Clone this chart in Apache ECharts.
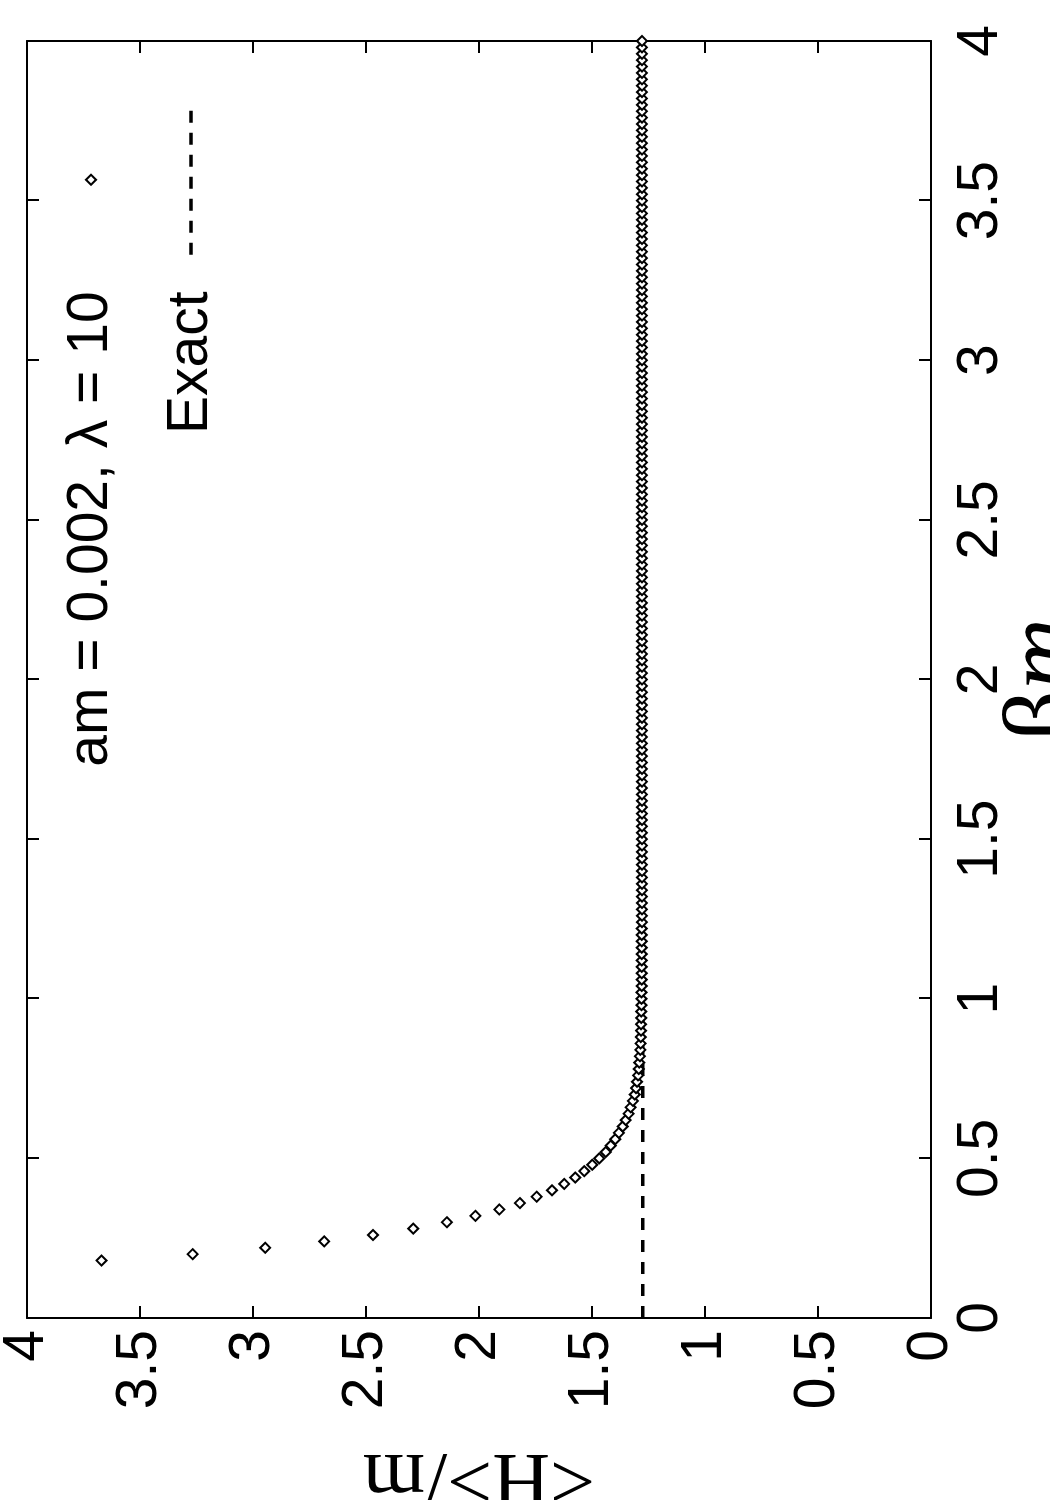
<!DOCTYPE html>
<html>
<head>
<meta charset="utf-8">
<style>
  html, body { margin: 0; padding: 0; background: #fff; overflow: hidden; }
  body { width: 1050px; height: 1500px; position: relative; }
  /* the plot is drawn landscape and turned a quarter turn to the left */
  #chart {
    position: absolute; left: 0; top: 0;
    width: 1500px; height: 1050px;
    transform-origin: 0 0;
    transform: translate(0, 1500px) rotate(-90deg);
  }
</style>
<script src="https://cdn.jsdelivr.net/npm/echarts@6/dist/echarts.min.js"></script>
</head>
<body>
<div id="chart"></div>
<script>
// beta*m sample points
const betaM = [
  0.18, 0.20, 0.22, 0.24, 0.26, 0.28, 0.30, 0.32, 0.34, 0.36,
  0.38, 0.40, 0.42, 0.44, 0.46, 0.48, 0.50, 0.52, 0.54, 0.56,
  0.58, 0.60, 0.62, 0.64, 0.66, 0.68, 0.70, 0.72, 0.74, 0.76,
  0.78, 0.80, 0.82, 0.84, 0.86, 0.88, 0.90, 0.92, 0.94, 0.96,
  0.98, 1.00, 1.02, 1.04, 1.06, 1.08, 1.10, 1.12, 1.14, 1.16,
  1.18, 1.20, 1.22, 1.24, 1.26, 1.28, 1.30, 1.32, 1.34, 1.36,
  1.38, 1.40, 1.42, 1.44, 1.46, 1.48, 1.50, 1.52, 1.54, 1.56,
  1.58, 1.60, 1.62, 1.64, 1.66, 1.68, 1.70, 1.72, 1.74, 1.76,
  1.78, 1.80, 1.82, 1.84, 1.86, 1.88, 1.90, 1.92, 1.94, 1.96,
  1.98, 2.00, 2.02, 2.04, 2.06, 2.08, 2.10, 2.12, 2.14, 2.16,
  2.18, 2.20, 2.22, 2.24, 2.26, 2.28, 2.30, 2.32, 2.34, 2.36,
  2.38, 2.40, 2.42, 2.44, 2.46, 2.48, 2.50, 2.52, 2.54, 2.56,
  2.58, 2.60, 2.62, 2.64, 2.66, 2.68, 2.70, 2.72, 2.74, 2.76,
  2.78, 2.80, 2.82, 2.84, 2.86, 2.88, 2.90, 2.92, 2.94, 2.96,
  2.98, 3.00, 3.02, 3.04, 3.06, 3.08, 3.10, 3.12, 3.14, 3.16,
  3.18, 3.20, 3.22, 3.24, 3.26, 3.28, 3.30, 3.32, 3.34, 3.36,
  3.38, 3.40, 3.42, 3.44, 3.46, 3.48, 3.50, 3.52, 3.54, 3.56,
  3.58, 3.60, 3.62, 3.64, 3.66, 3.68, 3.70, 3.72, 3.74, 3.76,
  3.78, 3.80, 3.82, 3.84, 3.86, 3.88, 3.90, 3.92, 3.94, 3.96,
  3.98, 4.00
]
// <H>/m, am = 0.002, lambda = 10
const energy = [
  3.670, 3.267, 2.946, 2.685, 2.469, 2.291, 2.142, 2.016, 1.910, 1.819,
  1.745, 1.677, 1.623, 1.574, 1.534, 1.499, 1.468, 1.439, 1.417, 1.397,
  1.381, 1.364, 1.351, 1.338, 1.329, 1.319, 1.311, 1.305, 1.301, 1.296,
  1.293, 1.291, 1.288, 1.286, 1.285, 1.284, 1.283, 1.283, 1.282, 1.282,
  1.281, 1.281, 1.281, 1.280, 1.280, 1.280, 1.280, 1.280, 1.280, 1.280,
  1.280, 1.280, 1.280, 1.279, 1.279, 1.279, 1.279, 1.279, 1.279, 1.279,
  1.279, 1.279, 1.279, 1.279, 1.279, 1.279, 1.279, 1.279, 1.279, 1.279,
  1.279, 1.279, 1.279, 1.279, 1.279, 1.279, 1.279, 1.279, 1.279, 1.279,
  1.279, 1.279, 1.279, 1.279, 1.279, 1.279, 1.279, 1.279, 1.279, 1.279,
  1.279, 1.279, 1.279, 1.279, 1.279, 1.279, 1.279, 1.279, 1.279, 1.279,
  1.279, 1.279, 1.279, 1.279, 1.279, 1.279, 1.279, 1.279, 1.279, 1.279,
  1.279, 1.279, 1.279, 1.279, 1.279, 1.279, 1.279, 1.279, 1.279, 1.279,
  1.279, 1.279, 1.279, 1.279, 1.279, 1.279, 1.279, 1.279, 1.279, 1.279,
  1.279, 1.279, 1.279, 1.279, 1.279, 1.279, 1.279, 1.279, 1.279, 1.279,
  1.279, 1.279, 1.279, 1.279, 1.279, 1.279, 1.279, 1.279, 1.279, 1.279,
  1.279, 1.279, 1.279, 1.279, 1.279, 1.279, 1.279, 1.279, 1.279, 1.279,
  1.279, 1.279, 1.279, 1.279, 1.279, 1.279, 1.279, 1.279, 1.279, 1.279,
  1.279, 1.279, 1.279, 1.279, 1.279, 1.279, 1.279, 1.279, 1.279, 1.279,
  1.279, 1.279, 1.279, 1.279, 1.279, 1.279, 1.279, 1.279, 1.279, 1.279,
  1.279, 1.279
]
// exact result (horizontal line)
const exactBeta = [0, 4]
const exactEnergy = [1.275, 1.275]

const seriesNames = ['am = 0.002, λ = 10', 'Exact']

const sans = 'Liberation Sans'
const serif = 'Liberation Serif'
// open diamond, keeps its aspect inside the wide legend box
const diamond = 'path://M0,-1L1,0L0,1L-1,0Z'
const dash = [12, 10]

function valueAxis(opts) {
  return Object.assign({
    type: 'value',
    min: 0,
    max: 4,
    interval: 0.5,
    splitLine: { show: false },
    axisLine: { show: true, onZero: false, lineStyle: { color: '#000', width: 2 } },
    axisTick: { show: true, inside: true, length: 12, lineStyle: { color: '#000', width: 2 } },
    axisLabel: { show: false }
  }, opts)
}

const chart = echarts.init(document.getElementById('chart'), null, { renderer: 'canvas' })

chart.setOption({
  backgroundColor: '#fff',
  animation: false,
  grid: { left: 182, right: 41, top: 27, bottom: 119, containLabel: false, outerBoundsMode: 'none' },
  xAxis: [
    valueAxis({
      position: 'bottom',
      axisLabel: { show: true, margin: 22, color: '#000', fontSize: 57, fontFamily: sans },
      name: '{b|β}{m|m}',
      nameLocation: 'middle',
      nameGap: 65,
      nameMoveOverlap: false,
      nameTextStyle: {
        rich: {
          b: { fontFamily: serif, fontSize: 100, color: '#000' },
          m: { fontFamily: serif, fontSize: 100, fontStyle: 'italic', color: '#000' }
        }
      }
    }),
    valueAxis({ position: 'top' })
  ],
  yAxis: [
    valueAxis({
      position: 'left',
      axisLabel: { show: true, margin: 12, color: '#000', fontSize: 57, fontFamily: sans },
      name: '<H>/m',
      nameLocation: 'middle',
      nameGap: 118,
      nameMoveOverlap: false,
      nameTextStyle: { fontFamily: serif, fontSize: 80, color: '#000' }
    }),
    valueAxis({ position: 'right' })
  ],
  legend: {
    orient: 'vertical',
    align: 'right',
    right: 98,
    top: 56,
    itemWidth: 150,
    itemHeight: 10,
    itemGap: 40,
    symbolKeepAspect: true,
    formatter: name => name + '  ',
    textStyle: { fontSize: 57, lineHeight: 60, fontFamily: sans, color: '#000' },
    data: [
      {
        name: seriesNames[0],
        icon: diamond,
        itemStyle: { color: '#fff', borderColor: '#000', borderWidth: 2 }
      },
      {
        name: seriesNames[1],
        itemStyle: { color: 'rgba(0,0,0,0)', borderWidth: 0 },
        lineStyle: { color: '#000', width: 3.5, type: dash }
      }
    ]
  },
  series: [
    {
      name: seriesNames[1],
      type: 'line',
      symbol: 'none',
      z: 2,
      itemStyle: { color: 'rgba(0,0,0,0)' },
      lineStyle: { color: '#000', width: 3.5, type: dash },
      data: exactBeta.map((b, i) => [b, exactEnergy[i]])
    },
    {
      name: seriesNames[0],
      type: 'scatter',
      symbol: diamond,
      symbolSize: 10,
      z: 3,
      itemStyle: { color: '#fff', borderColor: '#000', borderWidth: 2, opacity: 1 },
      data: betaM.map((b, i) => [b, energy[i]])
    }
  ]
})
</script>
</body>
</html>
